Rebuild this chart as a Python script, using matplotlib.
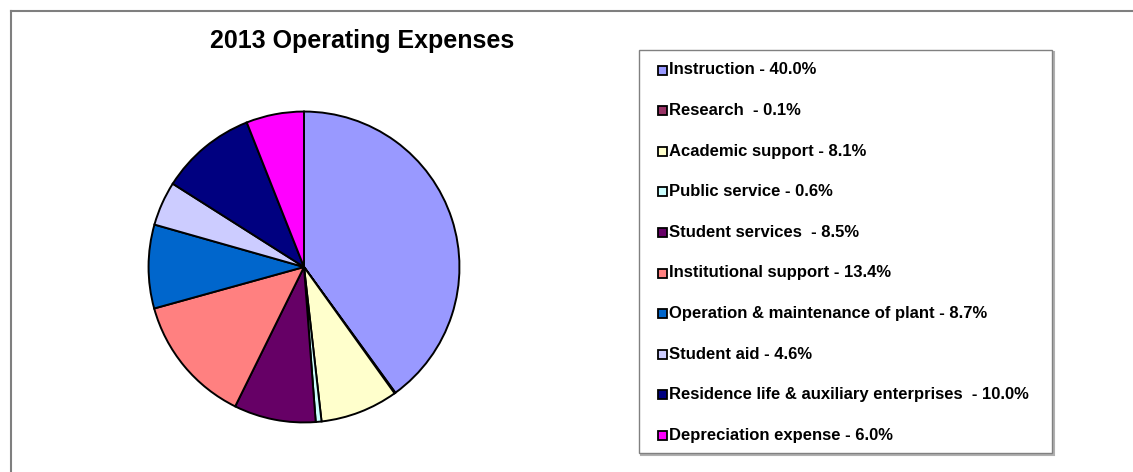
import matplotlib.pyplot as plt
from matplotlib.patches import Rectangle
from matplotlib.lines import Line2D

plt.rcParams['font.family'] = ['Liberation Sans', 'DejaVu Sans']

title = '2013 Operating Expenses'
categories = ['Instruction', 'Research ', 'Academic support', 'Public service',
              'Student services ', 'Institutional support',
              'Operation & maintenance of plant', 'Student aid',
              'Residence life & auxiliary enterprises ', 'Depreciation expense']
shares = [40.0, 0.1, 8.1, 0.6, 8.5, 13.4, 8.7, 4.6, 10.0, 6.0]
colors = ['#9999FF', '#993366', '#FFFFCC', '#CCFFFF', '#660066',
          '#FF8080', '#0066CC', '#CCCCFF', '#000080', '#FF00FF']

W, H = 1133, 472
fig = plt.figure(figsize=(W / 100, H / 100), dpi=100)


def px(x, y):
    # pixel position measured from top-left -> figure fraction
    return x / W, 1 - y / H


# chart area border (only top and left edges fall inside the image)
fig.add_artist(Line2D([11 / W, 1], [1 - 11 / H] * 2, transform=fig.transFigure,
                      color='#7f7f7f', lw=1.5))
fig.add_artist(Line2D([11 / W] * 2, [0, 1 - 11 / H], transform=fig.transFigure,
                      color='#7f7f7f', lw=1.5))

# pie
cx, cy, r = 304, 267, 157
ax = fig.add_axes([(cx - r) / W, (H - cy - r) / H, 2 * r / W, 2 * r / H])
ax.pie(shares, colors=colors, startangle=90, counterclock=False,
       wedgeprops=dict(edgecolor='black', linewidth=1.4))
ax.set_xlim(-1.01, 1.01)
ax.set_ylim(-1.01, 1.01)
ax.set_aspect('auto')

fig.text(*px(362, 41), title, ha='center', va='center',
         fontsize=18, fontweight='bold')

# legend box
lx0, ly0, lx1, ly1 = 639, 50, 1052, 453
fig.add_artist(Rectangle((lx0 / W + 1.5 / W, 1 - ly1 / H - 1.5 / H),
                         (lx1 - lx0) / W, (ly1 - ly0) / H,
                         transform=fig.transFigure, fill=False,
                         edgecolor='#b0b0b0', lw=1.5))
fig.add_artist(Rectangle((lx0 / W, 1 - ly1 / H), (lx1 - lx0) / W, (ly1 - ly0) / H,
                         transform=fig.transFigure, facecolor='white',
                         edgecolor='#808080', lw=1.0))

y0, step = 70, 40.6
for i, (name, val, c) in enumerate(zip(categories, shares, colors)):
    y = y0 + i * step
    sx, sy = px(658, y + 4.5)
    fig.add_artist(Rectangle((sx, sy), 9 / W, 9 / H, transform=fig.transFigure,
                             facecolor=c, edgecolor='black', lw=1.3))
    fig.text(*px(669, y), f'{name} - {val:.1f}%', ha='left', va='center',
             fontsize=12, fontweight='bold')

fig.savefig('out.png', dpi=100)
